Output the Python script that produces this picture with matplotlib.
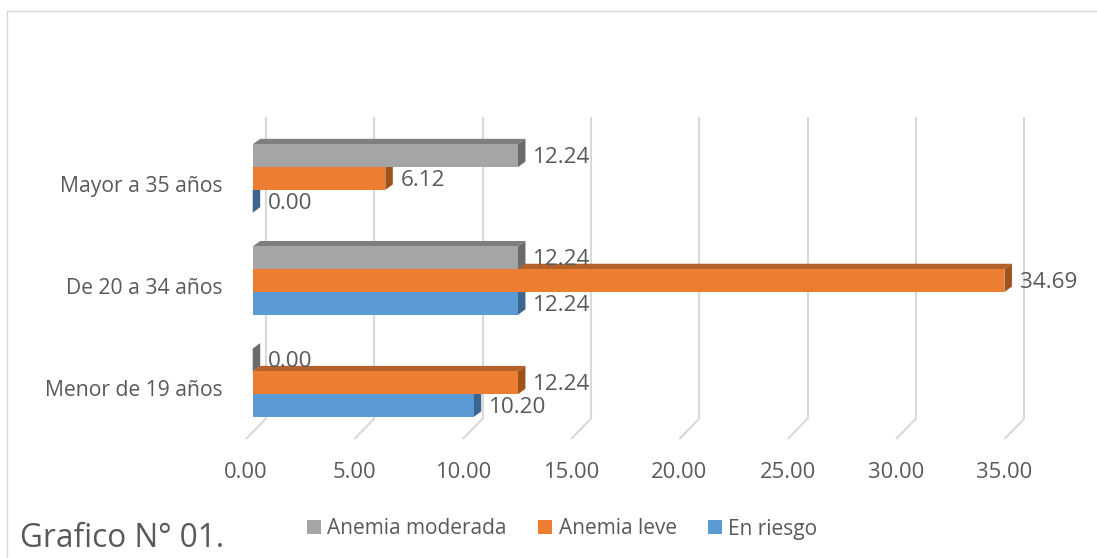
import matplotlib
matplotlib.use("Agg")
import matplotlib.pyplot as plt
from matplotlib.patches import Polygon, Rectangle, Patch

# ---------------- data ----------------
categories = ["Menor de 19 años", "De 20 a 34 años", "Mayor a 35 años"]
series_names = ["En riesgo", "Anemia leve", "Anemia moderada"]
en_riesgo = [10.20, 12.24, 0.00]
anemia_leve = [12.24, 34.69, 6.12]
anemia_moderada = [0.00, 12.24, 12.24]
xtick_values = [0, 5, 10, 15, 20, 25, 30, 35]
title_text = "Grafico N° 01."

# ---------------- style ----------------
plt.rcParams["font.family"] = ["Open Sans", "DejaVu Sans"]
TXT = "#595959"
GRID = "#d9d9d9"
front_cols = ["#5B9BD5", "#ED7D31", "#A5A5A5"]
top_cols = ["#44739F", "#B5612A", "#7F7F7F"]
side_cols = ["#3C6690", "#A0521C", "#6B6B6B"]

W, H = 1097, 558
fig = plt.figure(figsize=(W / 100, H / 100), dpi=100)
fig.patch.set_facecolor("white")

ax_left, ax_top, ax_bottom = 252.7, 130.5, 432.0
ax = fig.add_axes([ax_left / W, (H - ax_bottom) / H, 758.45 / W, (ax_bottom - ax_top) / H])
ax.set_xlim(0, 35)
ax.set_ylim(-0.482, 2.47)
ax.axis("off")


def px2data(dx, dy):
    o = ax.transData.transform((0, 0))
    p = ax.transData.inverted().transform((o[0] + dx, o[1] + dy))
    return p[0], p[1]


bdx, bdy = px2data(7.5, 5.5)      # bar depth
gdx, gdy = px2data(13.3, 13.5)    # back wall
fdx, fdy = px2data(-6.7, -7.0)    # front of floor
y0, y1 = ax.get_ylim()

# gridlines (back wall + floor)
for v in xtick_values:
    ax.plot([v + gdx, v + gdx], [y0 + gdy, y1 + gdy], color=GRID, lw=1.5,
            zorder=0.5, clip_on=False, solid_capstyle="butt")
    ax.plot([v + gdx, v + fdx], [y0 + gdy, y0 + fdy], color=GRID, lw=1.5,
            zorder=0.5, clip_on=False, solid_capstyle="butt")

# bars
series = [en_riesgo, anemia_leve, anemia_moderada]
h = 0.223
offs = [-h, 0.0, h]
z = 1.0
for i in range(len(categories)):
    for s, vals in enumerate(series):
        v = vals[i]
        yc = i + offs[s]
        yb, yt = yc - h / 2, yc + h / 2
        top = Polygon([(0, yt), (v, yt), (v + bdx, yt + bdy), (bdx, yt + bdy)],
                      closed=True, facecolor=top_cols[s], edgecolor="none",
                      zorder=z, clip_on=False)
        ax.add_patch(top)
        side = Polygon([(v, yb), (v, yt), (v + bdx, yt + bdy), (v + bdx, yb + bdy)],
                       closed=True, facecolor=side_cols[s], edgecolor="none",
                       zorder=z + 0.01, clip_on=False)
        ax.add_patch(side)
        bars = ax.barh([yc], [v], height=h, left=0, color=front_cols[s],
                       linewidth=0, zorder=z + 0.02)
        for b in bars:
            b.set_clip_on(False)
        z += 0.05
        ax.annotate(f"{v:.2f}", xy=(v, yc), xytext=(7.5 + 8, -2),
                    textcoords="offset pixels", ha="left", va="center",
                    fontsize=16.2, color=TXT, zorder=20, annotation_clip=False)

# category labels
for i, c in enumerate(categories):
    ax.annotate(c, xy=(0, i), xytext=(-30, -8), textcoords="offset pixels",
                ha="right", va="center", fontsize=15.2, color=TXT,
                annotation_clip=False)

# x tick labels
for v in xtick_values:
    ax.annotate(f"{v:.2f}", xy=(v, y0), xytext=(-6.7, -40),
                textcoords="offset pixels", ha="center", va="center",
                fontsize=15.8, color=TXT, annotation_clip=False)

# legend
handles = [Patch(facecolor=front_cols[2], edgecolor="none"),
           Patch(facecolor=front_cols[1], edgecolor="none"),
           Patch(facecolor=front_cols[0], edgecolor="none")]
labels = [series_names[2], series_names[1], series_names[0]]
fig.legend(handles, labels, loc="center left",
           bbox_to_anchor=(307 / W, (H - 529) / H), bbox_transform=fig.transFigure,
           ncol=3, frameon=False, fontsize=15, labelcolor=TXT,
           handlelength=0.68, handleheight=0.68, handletextpad=0.3,
           columnspacing=1.5, borderpad=0, borderaxespad=0)

# title
fig.text(20 / W, (H - 546.7) / H, title_text, ha="left", va="baseline",
         fontsize=22.7, color=TXT)

# outer frame
fig.patches.append(Rectangle((7 / W, -0.1), 2.0, (H - 11) / H + 0.1,
                             transform=fig.transFigure, fill=False,
                             edgecolor=GRID, lw=1.0, zorder=0))

fig.savefig("out.png", dpi=100, facecolor="white")
